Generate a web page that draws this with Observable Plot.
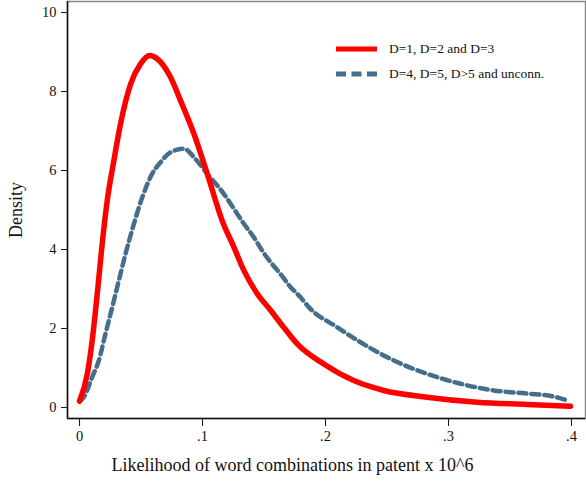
<!DOCTYPE html>
<html>
<head>
<meta charset="utf-8">
<script src="https://cdn.jsdelivr.net/npm/d3@7"></script>
<script src="https://cdn.jsdelivr.net/npm/@observablehq/plot@0.6"></script>
<style>
  html, body { margin: 0; padding: 0; background: #fff; }
  #wrap { position: relative; width: 586px; height: 481px; font-family: "Liberation Serif", "DejaVu Serif", serif; }
  #legend { position: absolute; left: 336px; top: 36px; font-size: 13.5px; color: #111; }
  .row { display: flex; align-items: center; height: 25px; }
  .row svg { margin-right: 12px; }
</style>
</head>
<body>
<div id="wrap"></div>
<script>
// Series: D=1, D=2 and D=3 (red, solid)
const redX = [0, .0063, .0103, .0144, .0184, .0225, .0279, .0333, .0415, .0496, .0572, .0631, .074, .0821, .093, .1038, .116, .1255, .1336, .1445, .1553, .166, .177, .1986, .223, .2474, .2827, .3233, .364, .3992];
const redY = [.16, .85, 1.7, 2.88, 4.14, 5.24, 6.25, 7.18, 8.19, 8.70, 8.91, 8.83, 8.36, 7.77, 6.93, 5.92, 4.73, 4.06, 3.47, 2.88, 2.46, 2.03, 1.61, 1.1, .68, .43, .26, .13, .076, .03];
// Series: D=4, D=5, D>5 and unconn. (blue, dashed)
const blueX = [0, .0035, .0103, .0157, .0211, .0266, .032, .0374, .0442, .051, .0591, .0659, .074, .0848, .0943, .1038, .1173, .1255, .1336, .1417, .1485, .1553, .1634, .1715, .1797, .1864, .2095, .2285, .2555, .2827, .3098, .3368, .364, .385, .3965];
const blueY = [.16, .26, .77, 1.19, 1.87, 2.54, 3.22, 3.89, 4.65, 5.32, 5.92, 6.21, 6.46, 6.55, 6.29, 5.92, 5.41, 5.03, 4.65, 4.31, 3.97, 3.68, 3.38, 3.05, 2.79, 2.54, 2.03, 1.65, 1.19, .85, .6, .43, .35, .28, .18];

const xTicks = [0, .1, .2, .3, .4];
const yTicks = [0, 2, 4, 6, 8, 10];
const seriesNames = ["D=1, D=2 and D=3", "D=4, D=5, D>5 and unconn."];
const xLabel = "Likelihood of word combinations in patent x 10^6";
const yLabel = "Density";

const xDomain = [-0.0098, 0.4114];
const yDomain = [-0.28, 10.28];

const red = redX.map((x, i) => ({x, y: redY[i]}));
const blue = blueX.map((x, i) => ({x, y: blueY[i]}));

const fmt = d => d === 0 ? "0" : String(d).replace(/^0\./, ".");

const plot = Plot.plot({
  width: 586,
  height: 481,
  marginLeft: 67,
  marginRight: 1,
  marginTop: 1,
  marginBottom: 63,
  style: { fontFamily: "Liberation Serif, DejaVu Serif, serif", background: "#fff", color: "#111" },
  x: { domain: xDomain },
  y: { domain: yDomain },
  marks: [
    Plot.frame({ stroke: "#888", strokeWidth: 1.5 }),
    Plot.ruleX([xDomain[0]], { stroke: "#111", strokeWidth: 1.5 }),
    Plot.ruleY([yDomain[0]], { stroke: "#111", strokeWidth: 1.5 }),
    Plot.axisX({ ticks: xTicks, tickFormat: fmt, tickSize: 8, tickPadding: 4, fontSize: 14.5, label: null, stroke: "#111" }),
    Plot.axisY({ ticks: yTicks, tickFormat: fmt, tickSize: 6, tickPadding: 5, fontSize: 14.5, label: null, stroke: "#111" }),
    Plot.text([xLabel], { frameAnchor: "bottom", dx: -34, dy: 52, fontSize: 18, fill: "#111" }),
    Plot.text([yLabel], { frameAnchor: "left", dx: -51, rotate: -90, textAnchor: "middle", fontSize: 18, fill: "#111" }),
    Plot.line(blue, { x: "x", y: "y", curve: "monotone-x", stroke: "#466d8a", strokeWidth: 4.5, strokeDasharray: "8,5" }),
    Plot.line(red, { x: "x", y: "y", curve: "monotone-x", stroke: "#ff0000", strokeWidth: 5.5, strokeLinecap: "round" })
  ]
});

const wrap = document.getElementById("wrap");
wrap.appendChild(plot);

const legend = document.createElement("div");
legend.id = "legend";
legend.innerHTML = `
  <div class="row"><svg width="41" height="8"><line x1="0" y1="4" x2="41" y2="4" stroke="#ff0000" stroke-width="5"/></svg><span>${seriesNames[0]}</span></div>
  <div class="row"><svg width="41" height="8"><line x1="0" y1="4" x2="41" y2="4" stroke="#466d8a" stroke-width="5" stroke-dasharray="10,5.5"/></svg><span>${seriesNames[1].replace(/>/g, "&gt;")}</span></div>`;
wrap.appendChild(legend);
</script>
</body>
</html>
